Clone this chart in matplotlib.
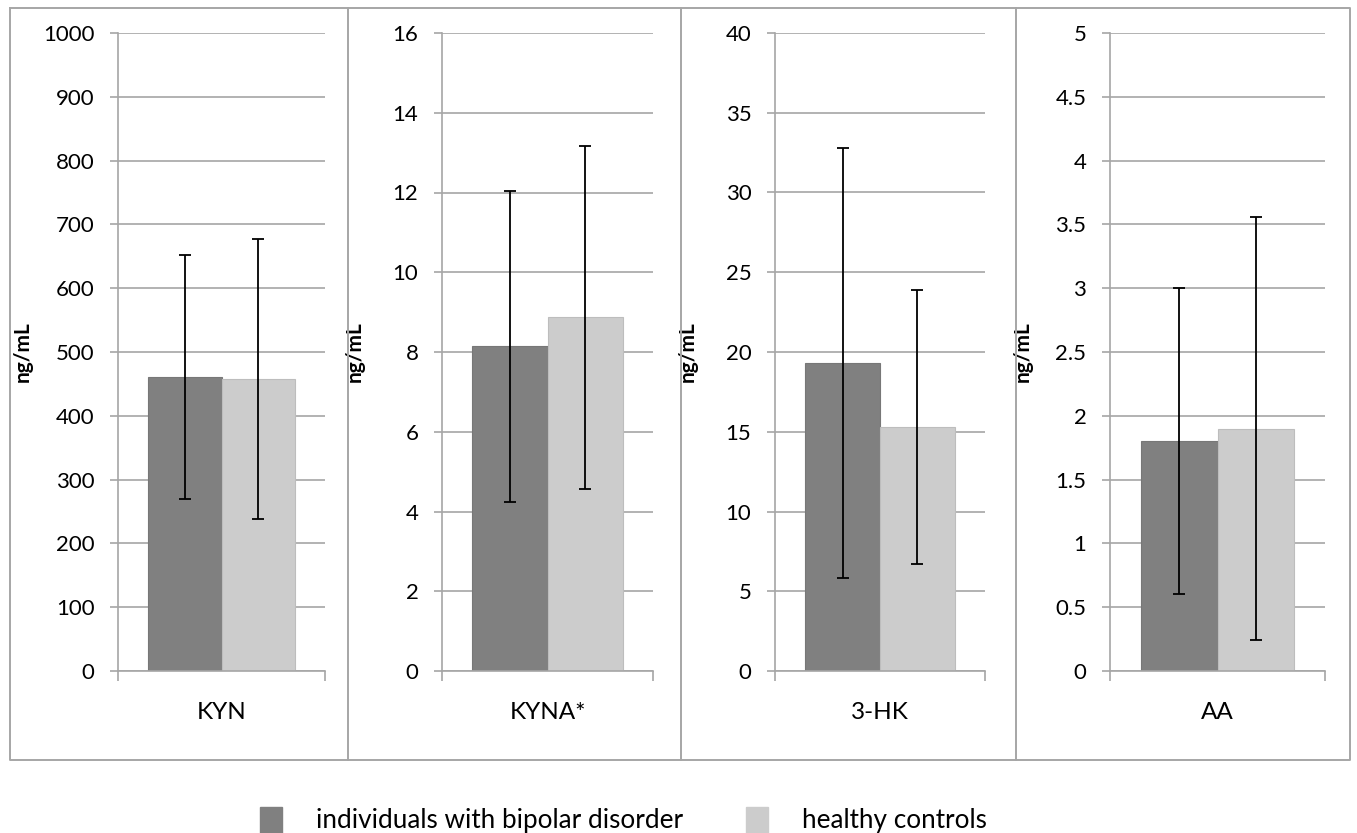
import numpy as np
import matplotlib
matplotlib.use("Agg")
import matplotlib.pyplot as plt
from matplotlib.lines import Line2D

plt.rcParams["font.family"] = ["Lato", "DejaVu Sans"]

# ---- data ----
analytes = ["KYN", "KYNA*", "3-HK", "AA"]
groups = ["individuals with bipolar disorder", "healthy controls"]
bipolar_mean = [461, 8.15, 19.3, 1.8]
bipolar_sd = [191, 3.9, 13.5, 1.2]
control_mean = [458, 8.87, 15.3, 1.9]
control_sd = [219, 4.3, 8.6, 1.66]
y_max = [1000, 16, 40, 5]
y_step = [100, 2, 5, 0.5]
tick_labels = [
    ["0", "100", "200", "300", "400", "500", "600", "700", "800", "900", "1000"],
    ["0", "2", "4", "6", "8", "10", "12", "14", "16"],
    ["0", "5", "10", "15", "20", "25", "30", "35", "40"],
    ["0", "0.5", "1", "1.5", "2", "2.5", "3", "3.5", "4", "4.5", "5"],
]

dark = "#808080"
light = "#cccccc"
grid_c = "#a6a6a6"

W, H = 1357, 833
fig = plt.figure(figsize=(W / 100, H / 100), dpi=100)

# axes extents in pixels (left, right) and x of the y-label
ax_px = [(118, 325), (442, 653), (775, 985), (1110, 1325)]
ylab_px = [33, 365, 698, 1033]
top_px, bot_px = 33, 671

bar_w = 0.357
err_kw = dict(ecolor="black", elinewidth=1.3, capsize=4, capthick=1.3)
for i, (l, r) in enumerate(ax_px):
    ax = fig.add_axes([l / W, 1 - bot_px / H, (r - l) / W, (bot_px - top_px) / H])
    ax.set_axisbelow(True)
    ax.bar(-bar_w / 2, bipolar_mean[i], width=bar_w, color=dark, edgecolor="#777777", linewidth=0.8,
           yerr=bipolar_sd[i], error_kw=err_kw)
    ax.bar(bar_w / 2, control_mean[i], width=bar_w, color=light, edgecolor="#bdbdbd", linewidth=0.8,
           yerr=control_sd[i], error_kw=err_kw)
    ax.set_xlim(-0.5, 0.5)
    ax.set_ylim(0, y_max[i])
    ticks = np.arange(len(tick_labels[i])) * y_step[i]
    ax.set_yticks(ticks)
    ax.set_yticklabels(tick_labels[i], fontsize=16)
    ax.yaxis.grid(True, color=grid_c, linewidth=1.2)
    ax.tick_params(axis="y", direction="out", length=6, width=1.2, color=grid_c, pad=11)
    ax.set_xticks([0])
    ax.set_xticklabels([analytes[i]], fontsize=17.5)
    ax.set_xticks([-0.5, 0.5], minor=True)
    ax.tick_params(axis="x", which="major", length=0, pad=22)
    ax.tick_params(axis="x", which="minor", direction="out", length=7, width=1.2, color=grid_c)
    for s in ["top", "right"]:
        ax.spines[s].set_visible(False)
    for s in ["left", "bottom"]:
        ax.spines[s].set_color(grid_c)
        ax.spines[s].set_linewidth(1.2)
    ax.set_ylabel("ng/mL", fontsize=15, fontweight="bold")
    ax.yaxis.set_label_coords((ylab_px[i] - l) / (r - l), 0.5)

# panel frames
fx = lambda x: x / W
fy = lambda y: 1 - y / H
frame_kw = dict(color=grid_c, linewidth=1.4, transform=fig.transFigure)
L, R, T, B = 10, 1350, 8, 760
fig.add_artist(Line2D([fx(L), fx(R), fx(R), fx(L), fx(L)], [fy(T), fy(T), fy(B), fy(B), fy(T)], **frame_kw))
for x in [348, 681, 1016]:
    fig.add_artist(Line2D([fx(x), fx(x)], [fy(T), fy(B)], **frame_kw))

# legend
handles = [plt.Rectangle((0, 0), 1, 1, color=dark), plt.Rectangle((0, 0), 1, 1, color=light)]
fig.legend(handles, groups, loc="center", bbox_to_anchor=(0.4595, 1 - 820 / H), ncol=2,
           frameon=False, fontsize=18.8, handlelength=0.85, handleheight=1.15,
           handletextpad=1.3, columnspacing=2.4)

fig.savefig("out.png", dpi=100)
